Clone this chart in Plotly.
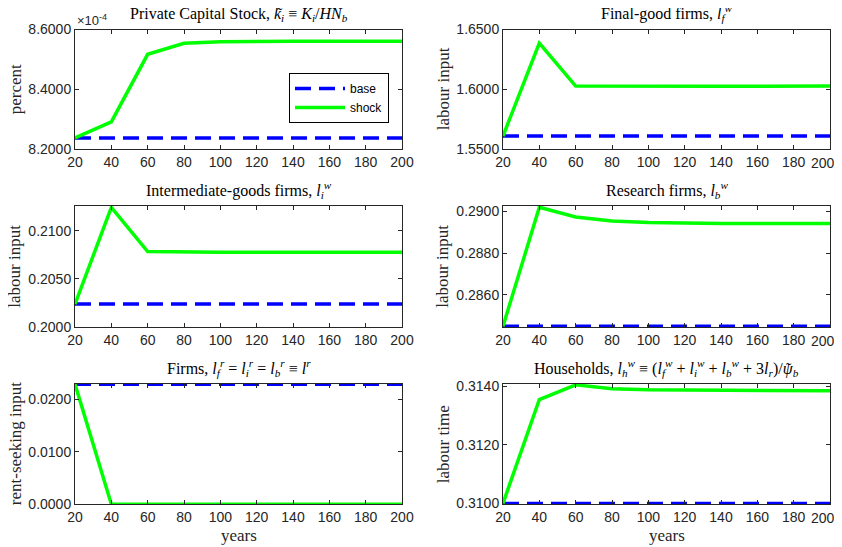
import plotly.graph_objects as go

years = [20, 40, 60, 80, 100, 120, 140, 160, 180, 200]
xtick_vals = [20, 40, 60, 80, 100, 120, 140, 160, 180, 200]
xtick_text = ["20", "40", "60", "80", "100", "120", "140", "160", "180", "200"]

k_base = [8.237] * 10
k_shock = [8.237, 8.291, 8.517, 8.554, 8.559, 8.5605, 8.5605, 8.5605, 8.5605, 8.5605]

lf_base = [1.5608] * 10
lf_shock = [1.5608, 1.6386, 1.6027, 1.6025, 1.6025, 1.6026, 1.6026, 1.6026, 1.6027, 1.6027]

li_base = [0.2024] * 10
li_shock = [0.2024, 0.2124, 0.20784, 0.20778, 0.20777, 0.20777, 0.20777, 0.20777, 0.20777, 0.20777]

lb_base = [0.28451] * 10
lb_shock = [0.28451, 0.29018, 0.28972, 0.28953, 0.28945, 0.28942, 0.28941, 0.28941, 0.28941, 0.28941]

lr_base = [0.0229] * 10
lr_shock = [0.0229, 0.0, 0.0, 0.0, 0.0, 0.0, 0.0, 0.0, 0.0, 0.0]

lh_base = [0.3100] * 10
lh_shock = [0.3100, 0.31355, 0.31405, 0.31392, 0.31388, 0.31387, 0.31386, 0.31386, 0.31385, 0.31385]

titles = [
    "Private Capital Stock, <i>k<sub>i</sub></i> ≡ <i>K<sub>i</sub></i>/<i>HN<sub>b</sub></i>",
    "Final-good firms, <i>l<sub>f</sub><sup>w</sup></i>",
    "Intermediate-goods firms, <i>l<sub>i</sub><sup>w</sup></i>",
    "Research firms, <i>l<sub>b</sub><sup>w</sup></i>",
    "Firms, <i>l<sub>f</sub><sup>r</sup></i> = <i>l<sub>i</sub><sup>r</sup></i> = <i>l<sub>b</sub><sup>r</sup></i> ≡ <i>l<sup>r</sup></i>",
    "Households, <i>l<sub>h</sub><sup>w</sup></i> ≡ (<i>l<sub>f</sub><sup>w</sup></i> + <i>l<sub>i</sub><sup>w</sup></i> + <i>l<sub>b</sub><sup>w</sup></i> + 3<i>l<sub>r</sub></i>)/<i>ψ<sub>b</sub></i>",
]
ylabels = ["percent", "labour input", "labour input", "labour input", "rent-seeking input", "labour time"]
series = [
    (k_base, k_shock), (lf_base, lf_shock), (li_base, li_shock),
    (lb_base, lb_shock), (lr_base, lr_shock), (lh_base, lh_shock),
]
yranges = [
    [8.2, 8.6], [1.55, 1.65], [0.2, 0.21255],
    [0.28446, 0.29024], [-0.00003, 0.02294], [0.30997, 0.31408],
]
ydticks = [0.2, 0.05, 0.005, 0.002, 0.01, 0.002]

# page offset of the plot div (default body margin)
OFF = 8
W, H = 842 - OFF, 547 - OFF


def px(xp):
    return (xp - OFF) / W


def py(yp):
    return 1 - (yp - OFF) / H


xdom_px = [(75, 402), (503, 830)]
ydom_px = [(29.5, 149), (206, 327.3), (384, 504.3)]

AX = "rgb(38,38,38)"
SANS = "Liberation Sans, Arial, sans-serif"
SERIF = "Liberation Serif, Times New Roman, serif"

fig = go.Figure()
annotations = []
for i in range(6):
    r, c = divmod(i, 2)
    n = i + 1
    xa = "x" if n == 1 else f"x{n}"
    ya = "y" if n == 1 else f"y{n}"
    base, shock = series[i]
    fig.add_trace(go.Scatter(
        x=years, y=base, xaxis=xa, yaxis=ya, mode="lines", name="base",
        line=dict(color="#0000FF", width=3.5, dash="16px,8px"),
        showlegend=(i == 0)))
    fig.add_trace(go.Scatter(
        x=years, y=shock, xaxis=xa, yaxis=ya, mode="lines", name="shock",
        line=dict(color="#00FF00", width=3.5),
        showlegend=(i == 0)))
    x0, x1 = xdom_px[c]
    y0, y1 = ydom_px[r]
    xkey = "xaxis" if n == 1 else f"xaxis{n}"
    ykey = "yaxis" if n == 1 else f"yaxis{n}"
    # right column: last label drawn separately so it stays inside the page
    ttext = list(xtick_text)
    if c == 1:
        ttext[-1] = ""
        annotations.append(dict(
            text=xtick_text[-1], x=px(823), y=py(y1 + 14),
            xref="paper", yref="paper", xanchor="center", yanchor="middle",
            showarrow=False, font=dict(family=SANS, size=14, color=AX)))
    fig.update_layout(**{
        xkey: dict(
            domain=[px(x0), px(x1)], anchor=ya, range=[20, 200], automargin=False,
            tickmode="array", tickvals=xtick_vals, ticktext=ttext,
            showline=True, mirror="ticks", linecolor=AX, linewidth=1,
            ticks="inside", ticklen=4, tickcolor=AX, showgrid=False, zeroline=False,
            tickfont=dict(family=SANS, size=14, color=AX)),
        ykey: dict(
            domain=[py(y1), py(y0)], anchor=xa, range=yranges[i], automargin=False,
            tickmode="linear", tick0=0, dtick=ydticks[i], tickformat=".4f",
            showline=True, mirror="ticks", linecolor=AX, linewidth=1,
            ticks="inside", ticklen=4, tickcolor=AX, showgrid=False, zeroline=False,
            tickfont=dict(family=SANS, size=14, color=AX)),
    })
    annotations.append(dict(
        text=titles[i], x=px((x0 + x1) / 2), y=py(y0 - 3),
        xref="paper", yref="paper", xanchor="center", yanchor="bottom",
        showarrow=False, font=dict(family=SERIF, size=16, color="black")))
    annotations.append(dict(
        text=ylabels[i], x=px(x0 - 60), y=py((y0 + y1) / 2),
        xref="paper", yref="paper", xanchor="center", yanchor="middle",
        textangle=-90, showarrow=False,
        font=dict(family=SERIF, size=17, color=AX)))
    if r == 2:
        annotations.append(dict(
            text="years", x=px((x0 + x1) / 2), y=py(535),
            xref="paper", yref="paper", xanchor="center", yanchor="middle",
            showarrow=False, font=dict(family=SERIF, size=17, color=AX)))

# tildes over k and psi
for tx, ty in [(280, 13), (789, 368)]:
    annotations.append(dict(
        text="˜", x=px(tx), y=py(ty), xref="paper", yref="paper",
        xanchor="center", yanchor="middle", showarrow=False,
        font=dict(family=SERIF, size=16, color="black")))

annotations.append(dict(
    text="×10<sup>-4</sup>", x=px(75), y=py(20), xref="paper", yref="paper",
    xanchor="left", yanchor="middle", showarrow=False,
    font=dict(family=SANS, size=13, color=AX)))

fig.update_layout(
    width=W, height=H, margin=dict(l=0, r=0, t=0, b=0, autoexpand=False),
    paper_bgcolor="white", plot_bgcolor="white",
    annotations=annotations,
    legend=dict(
        x=px(289), y=py(73), xanchor="left", yanchor="top",
        bgcolor="white", bordercolor="black", borderwidth=1,
        font=dict(family=SANS, size=12, color="black"),
        itemwidth=50, tracegroupgap=0),
)

fig.write_html("out.html")
